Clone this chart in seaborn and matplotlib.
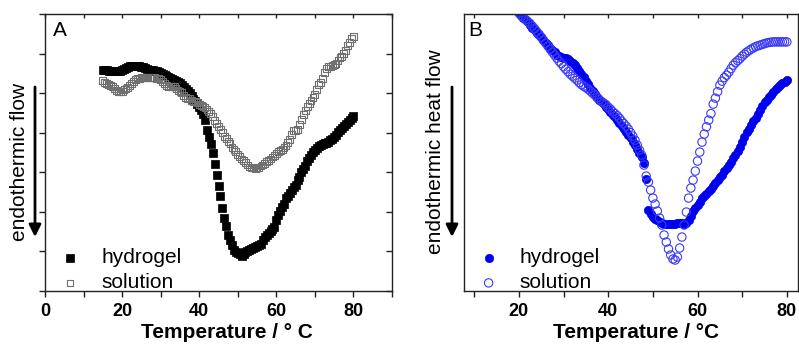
import numpy as np
import pandas as pd
import seaborn as sns
import matplotlib.pyplot as plt
from matplotlib.ticker import MultipleLocator

# endothermic signal in arbitrary units (larger = more endothermic, plotted downward)
temp_a = np.arange(15, 80.5, 0.5)
hydrogel_a = [70, 70, 70, 70.5, 71, 71, 71, 71, 71, 70.5,
              70, 69, 68, 67, 66, 65.5, 65.5, 65.5, 65.5, 66,
              66.5, 67, 68, 69, 69.5, 70, 70, 70.5, 71, 72,
              73, 74, 75, 76, 77, 78, 79, 80, 81, 82,
              83, 85, 87, 89, 91, 93, 96, 99, 101, 104,
              107, 110, 114, 120, 130, 137, 144, 153, 164, 175,
              186, 196, 208, 218, 226, 235, 240, 245, 250, 252,
              253, 254, 256, 254, 252, 251, 250, 248.5, 248, 247,
              246, 245, 243.5, 240, 236.5, 234.5, 232.5, 230.5, 229, 227,
              220, 215, 211, 207, 204, 198, 195.5, 193, 189.5, 187,
              185, 180, 177, 172, 169, 166, 161, 158, 155, 152,
              150, 147.5, 146, 145, 144, 143, 142.5, 142, 140, 138.5,
              137, 135, 132, 129.5, 127.5, 126, 124, 122, 120, 118,
              116]
solution_a = [80, 82, 83, 84.5, 85.5, 86.5, 88, 90, 91, 91.5,
              91, 89.5, 88.5, 87, 85, 83, 81, 79.5, 78.5, 78,
              77.7, 77.7, 77.7, 77.7, 77.7, 77.7, 77.7, 77.7, 78, 78,
              79, 81, 83, 85, 86, 86.7, 86.7, 86.7, 88, 90,
              91, 92.5, 95, 97, 98, 98.5, 100, 101.7, 101.7, 102.5,
              104, 105, 106, 107.5, 109.5, 111.5, 113.5, 116.5, 120, 123,
              126, 129, 132, 136, 138.5, 141, 143.5, 147, 149.5, 151.5,
              154, 156.5, 159, 160.5, 162.5, 165, 167, 167.5, 168, 168.3,
              168, 167.5, 166, 165, 163.5, 161.5, 160.5, 159, 157, 155.5,
              153.5, 151.5, 150, 149, 147, 145, 142, 139, 134, 130,
              130, 129, 124, 119, 114.5, 110.5, 106, 103.5, 100, 97.5,
              94, 89, 84, 82, 78.5, 72, 68, 66.5, 66, 65.3,
              64, 63.3, 60, 57.5, 56, 53, 50.5, 45, 42.5, 38.5,
              36.7]

temp_b = np.arange(20, 80.5, 0.5)
hydrogel_b = [12, 15, 17.5, 19.5, 22, 25, 27.5, 30, 32.5, 34.5,
              37, 39.5, 42.5, 45, 47.5, 49.5, 52, 54.5, 56, 57,
              57.5, 58, 59, 60.5, 62.5, 65, 68, 70.5, 74, 77,
              80.5, 84, 87.5, 91, 94, 97, 99.5, 102, 104, 106.5,
              109, 112, 114.5, 117, 120, 123, 125.5, 128.5, 131.5, 134.5,
              138, 141.5, 145, 148.5, 152.5, 157, 163, 179, 210, 214,
              216.5, 218.5, 220, 221.5, 222.5, 223.5, 224, 224, 224, 224,
              223.5, 223, 222.5, 223, 224, 223, 220, 216, 211, 207.5,
              205, 202, 198, 196, 193.5, 191, 189, 186, 183, 180,
              177, 174.5, 171, 168, 165, 161.5, 158, 155, 151, 146.5,
              141.5, 137, 132, 129, 125, 121, 117.5, 113.5, 109.5, 105.5,
              102, 99.5, 97, 94.5, 91.5, 89, 86.5, 84.5, 83, 81.5,
              80]
solution_b = [13, 15.5, 17.5, 19.5, 21.5, 23.3, 26, 28.5, 31.5, 34,
              37, 40, 43, 46, 49, 52, 55, 58, 61, 63.5,
              66.5, 69, 71.5, 74, 76, 78, 80, 82.5, 84.5, 86,
              87.5, 89, 91, 93, 95, 97.5, 99.5, 101.5, 103, 104.5,
              107, 109, 111.5, 113.5, 115.5, 118, 121, 123.5, 126, 129,
              132.5, 136, 140, 145, 150, 155, 165, 176, 182, 190,
              198, 204, 211, 218, 225, 235, 242, 249, 255, 259,
              260, 257, 248, 237, 225, 212, 198, 188, 180, 171,
              161, 152, 142, 134, 126.7, 120, 113.5, 104, 98, 91.5,
              85, 81, 77.5, 75, 72, 68.5, 65, 62.5, 60.5, 58.5,
              56, 54, 52, 50.5, 49, 47.7, 46.5, 45.7, 45, 44.2,
              43.5, 42.7, 42.3, 42, 41.7, 41.7, 41.7, 41.7, 41.7, 41.7,
              41.7]

df_a = pd.DataFrame({"T": temp_a, "hydrogel": hydrogel_a, "solution": solution_a})
df_b = pd.DataFrame({"T": temp_b, "hydrogel": hydrogel_b, "solution": solution_b})

sns.set_theme(style="ticks")
plt.rcParams["font.family"] = ["Liberation Sans", "DejaVu Sans"]
plt.rcParams["text.color"] = "black"
plt.rcParams["axes.labelcolor"] = "black"
plt.rcParams["xtick.color"] = "black"
plt.rcParams["ytick.color"] = "black"

fig = plt.figure(figsize=(7.99, 3.44), dpi=100)
ax_a = fig.add_axes([45 / 799, 53 / 344, 347 / 799, 277 / 344])
ax_b = fig.add_axes([464 / 799, 53 / 344, 334 / 799, 277 / 344])

# Panel A
sns.scatterplot(data=df_a, x="T", y="hydrogel", ax=ax_a, marker="s", s=26,
                color="black", edgecolor="black", linewidth=0.5, label="hydrogel")
sns.scatterplot(data=df_a, x="T", y="solution", ax=ax_a, marker="s", s=24,
                color="#707070", facecolor="none", edgecolor="#707070",
                linewidth=0.8, label="solution")
ax_a.set_xlim(0, 90)
ax_a.set_ylim(291, 13.8)
ax_a.xaxis.set_major_locator(MultipleLocator(20))
ax_a.xaxis.set_minor_locator(MultipleLocator(10))
ax_a.set_yticks([291 - 39.6 * k for k in range(8)])
ax_a.set_yticklabels([])
ax_a.set_xlabel("Temperature / ° C", fontsize=15, fontweight="bold")
ax_a.set_ylabel("endothermic flow", fontsize=15)
ax_a.xaxis.set_label_coords(0.524, -0.115)
ax_a.yaxis.set_label_coords(-0.046, 0.466)
ax_a.text(0.022, 0.975, "A", transform=ax_a.transAxes, fontsize=15, va="top")

# Panel B
sns.scatterplot(data=df_b, x="T", y="hydrogel", ax=ax_b, marker="o", s=36,
                color="#0000f0", edgecolor="#0000f0", linewidth=0.5, label="hydrogel")
sns.scatterplot(data=df_b, x="T", y="solution", ax=ax_b, marker="o", s=36,
                color="#3a3af5", facecolor="none", edgecolor="#3a3af5",
                linewidth=0.8, label="solution")
ax_b.set_xlim(7.7, 82.5)
ax_b.set_ylim(291, 13.8)
ax_b.xaxis.set_major_locator(MultipleLocator(20))
ax_b.xaxis.set_minor_locator(MultipleLocator(10))
ax_b.set_yticks([])
ax_b.set_xlabel("Temperature / °C", fontsize=15, fontweight="bold")
ax_b.set_ylabel("endothermic heat flow", fontsize=15)
ax_b.xaxis.set_label_coords(0.515, -0.115)
ax_b.yaxis.set_label_coords(-0.057, 0.504)
ax_b.text(0.012, 0.975, "B", transform=ax_b.transAxes, fontsize=15, va="top")

for ax in (ax_a, ax_b):
    for sp in ax.spines.values():
        sp.set_visible(True)
        sp.set_linewidth(1.0)
        sp.set_color("#222222")
    ax.tick_params(axis="x", which="both", direction="out", length=4, width=1,
                   labelsize=13, pad=5, color="#222222")
    for lab in ax.get_xticklabels():
        lab.set_fontweight("bold")
    top = ax.secondary_xaxis("top")
    top.xaxis.set_major_locator(MultipleLocator(20))
    top.xaxis.set_minor_locator(MultipleLocator(10))
    top.tick_params(axis="x", which="both", direction="in", length=3, width=1,
                    labeltop=False, color="#222222")
    top.spines["top"].set_visible(False)
    leg = ax.legend(loc="lower left", bbox_to_anchor=(0.03, -0.02), frameon=False,
                    fontsize=15, handlelength=1.0, handletextpad=1.0,
                    labelspacing=0.3, borderpad=0.2, borderaxespad=0)

ax_a.tick_params(axis="y", which="both", direction="out", length=4, width=1,
                 color="#222222")
right = ax_a.secondary_yaxis("right")
right.set_yticks([291 - 39.6 * k for k in range(8)])
right.tick_params(axis="y", direction="in", length=4, width=1, labelright=False,
                  color="#222222")
right.spines["right"].set_visible(False)

for ax, xa in ((ax_a, 35), (ax_b, 452)):
    ax.annotate("", xy=(xa / 799, 1 - 237 / 344), xytext=(xa / 799, 1 - 87 / 344),
                xycoords="figure fraction", textcoords="figure fraction",
                arrowprops=dict(arrowstyle="-|>", lw=2, color="black",
                                mutation_scale=18, shrinkA=0, shrinkB=0),
                annotation_clip=False)

fig.savefig("out.png", dpi=100)
